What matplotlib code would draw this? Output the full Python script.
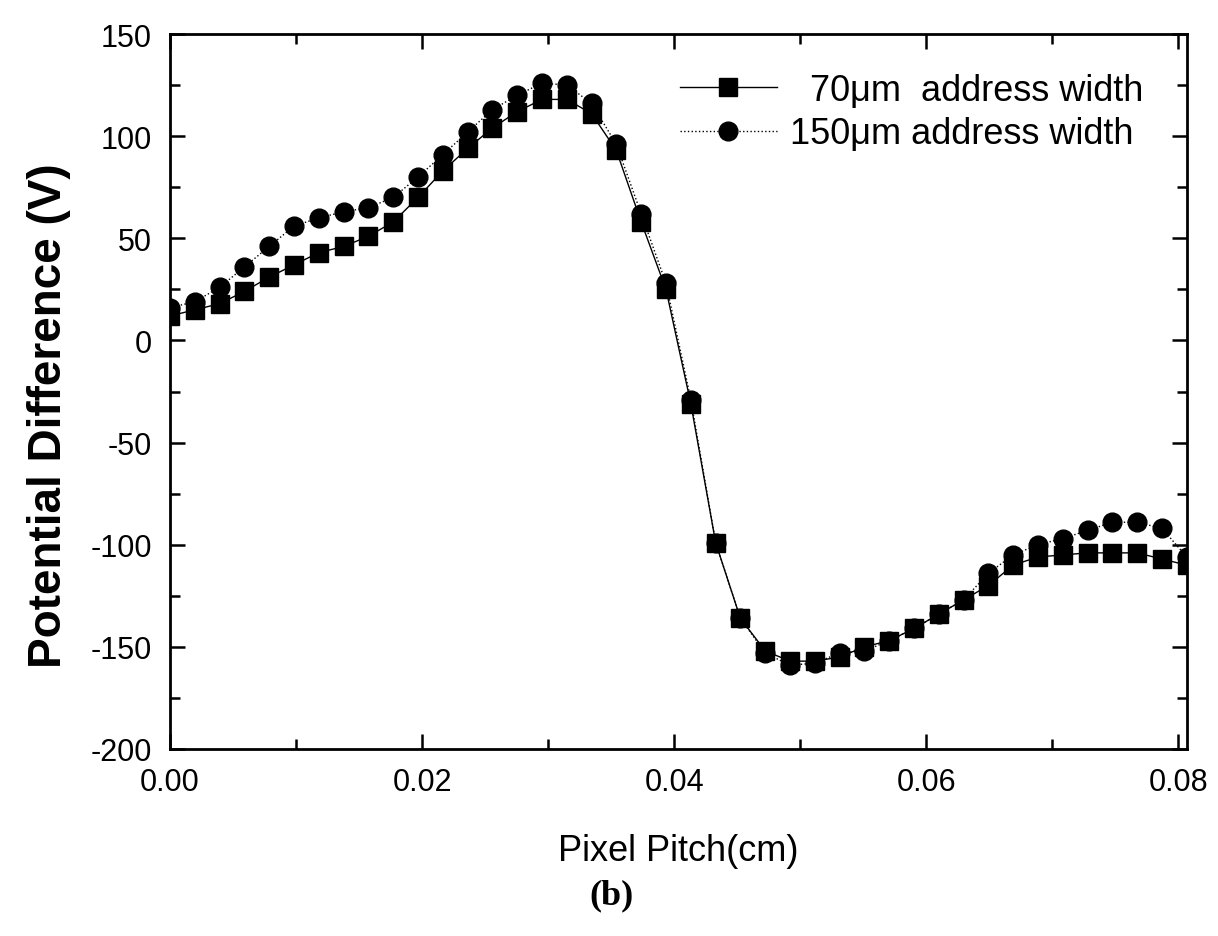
import matplotlib
matplotlib.use("Agg")
import matplotlib.pyplot as plt
from matplotlib.ticker import MultipleLocator

plt.rcParams['font.family'] = ['Liberation Sans', 'DejaVu Sans']
plt.rcParams['axes.unicode_minus'] = False

# pixel pitch positions (cm)
x = [0.0, 0.00197, 0.00394, 0.0059, 0.00787, 0.00984, 0.01181, 0.01378, 0.01574, 0.01771,
     0.01968, 0.02165, 0.02362, 0.02558, 0.02755, 0.02952, 0.03149, 0.03346, 0.03542, 0.03739,
     0.03936, 0.04133, 0.0433, 0.04526, 0.04723, 0.0492, 0.05117, 0.05314, 0.0551, 0.05707,
     0.05904, 0.06101, 0.06298, 0.06494, 0.06691, 0.06888, 0.07085, 0.07282, 0.07478, 0.07675,
     0.07872, 0.08069]

# 70um address width
v70 = [12, 15, 18, 24, 31, 37, 43, 46, 51, 58,
       70, 83, 94, 104, 112, 118, 118, 111, 93, 58,
       25, -31, -99, -136, -152, -157, -157, -155, -150, -147,
       -141, -134, -127, -120, -110, -106, -105, -104, -104, -104,
       -107, -110]

# 150um address width
v150 = [16, 19, 26, 36, 46, 56, 60, 63, 65, 70,
        80, 91, 102, 113, 120, 126, 125, 116, 96, 62,
        28, -29, -99, -136, -153, -159, -158, -153, -152, -147,
        -141, -134, -127, -114, -105, -100, -97, -93, -89, -89,
        -92, -106]

labels = ['  70\u03bcm  address width', '150\u03bcm address width']

fig = plt.figure(figsize=(12.18, 9.37), dpi=100)
ax = fig.add_axes([0.1396, 0.1996, 0.835, 0.763])

ax.plot(x, v70, color='black', linestyle='-', linewidth=1.0,
        marker='s', markersize=13, markerfacecolor='black', label=labels[0])
ax.plot(x, v150, color='black', linestyle=':', linewidth=1.0,
        marker='o', markersize=13.5, markerfacecolor='black', label=labels[1])

ax.set_xlim(0, 0.08071)
ax.set_ylim(-200, 150)
ax.xaxis.set_major_locator(MultipleLocator(0.02))
ax.xaxis.set_minor_locator(MultipleLocator(0.01))
ax.yaxis.set_major_locator(MultipleLocator(50))
ax.yaxis.set_minor_locator(MultipleLocator(25))
ax.set_xticks([0, 0.02, 0.04, 0.06, 0.08])
ax.set_xticklabels(['0.00', '0.02', '0.04', '0.06', '0.08'])

ax.tick_params(which='both', direction='in', top=True, right=True, width=1.8, labelsize=22)
ax.tick_params(which='major', length=11, pad=13)
ax.tick_params(which='minor', length=7)
for s in ax.spines.values():
    s.set_linewidth(2)

ax.set_xlabel('Pixel Pitch(cm)', fontsize=26, labelpad=26)
ax.set_ylabel('Potential Difference (V)', fontsize=33, fontweight='bold')
ax.yaxis.set_label_coords(-0.097, 0.468)

ax.legend(loc='upper left', bbox_to_anchor=(0.501, 0.946), frameon=False,
          fontsize=26, handlelength=2.7, handletextpad=0.35, labelspacing=0.24,
          borderpad=0, borderaxespad=0)

fig.text(0.502, 0.044, '(b)', ha='center', va='center', fontsize=26,
         family='Liberation Serif', fontweight='bold')

fig.savefig('out.png', dpi=100)
